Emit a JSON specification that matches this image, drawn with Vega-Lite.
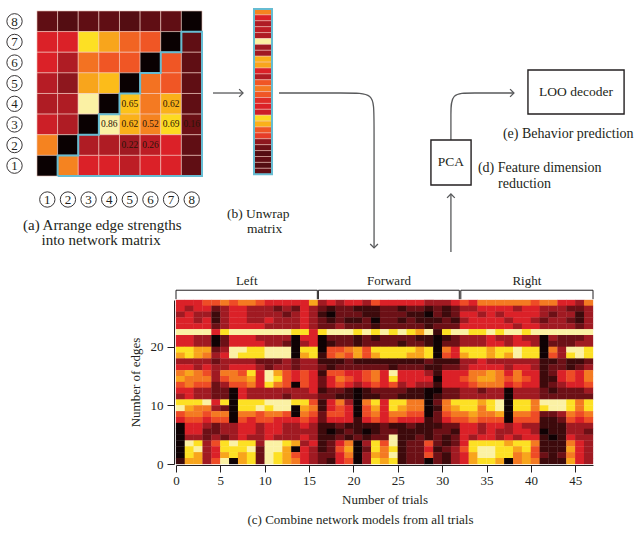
{
"padding": {"left": 5, "top": 7, "right": 0, "bottom": 0},
"background": "white",
"config": {
  "view": {"stroke": null},
  "font": "Liberation Serif",
  "axis": {"labelFont": "Liberation Serif", "titleFont": "Liberation Serif", "titleFontWeight": "normal", "labelColor": "#231f20", "titleColor": "#231f20", "grid": false, "labelOverlap": false},
  "title": {"font": "Liberation Serif", "fontWeight": "normal", "fontSize": 13, "color": "#231f20"}
},
"spacing": 19,
"resolve": {"scale": {"color": "independent"}},
"vconcat": [
{
  "spacing": 4,
  "resolve": {"scale": {"color": "independent"}},
  "hconcat": [
  {
    "width": 165, "height": 165,
    "data": {"values": [
      {"r":8,"c":1,"s":0.14},{"r":8,"c":2,"s":0.12},{"r":8,"c":3,"s":0.14},{"r":8,"c":4,"s":0.14},{"r":8,"c":5,"s":0.12},{"r":8,"c":6,"s":0.14},{"r":8,"c":7,"s":0.14},{"r":8,"c":8,"s":0},
      {"r":7,"c":1,"s":0.3},{"r":7,"c":2,"s":0.3},{"r":7,"c":3,"s":0.7},{"r":7,"c":4,"s":0.6},{"r":7,"c":5,"s":0.45},{"r":7,"c":6,"s":0.42},{"r":7,"c":7,"s":0},{"r":7,"c":8,"s":0.14},
      {"r":6,"c":1,"s":0.3},{"r":6,"c":2,"s":0.24},{"r":6,"c":3,"s":0.48},{"r":6,"c":4,"s":0.42},{"r":6,"c":5,"s":0.42},{"r":6,"c":6,"s":0},{"r":6,"c":7,"s":0.42},{"r":6,"c":8,"s":0.14},
      {"r":5,"c":1,"s":0.25},{"r":5,"c":2,"s":0.2},{"r":5,"c":3,"s":0.6},{"r":5,"c":4,"s":0.64},{"r":5,"c":5,"s":0},{"r":5,"c":6,"s":0.48},{"r":5,"c":7,"s":0.42},{"r":5,"c":8,"s":0.14},
      {"r":4,"c":1,"s":0.24},{"r":4,"c":2,"s":0.24},{"r":4,"c":3,"s":0.86},{"r":4,"c":4,"s":0},{"r":4,"c":5,"s":0.65,"note":true},{"r":4,"c":6,"s":0.5},{"r":4,"c":7,"s":0.62,"note":true},{"r":4,"c":8,"s":0.14},
      {"r":3,"c":1,"s":0.28},{"r":3,"c":2,"s":0.24},{"r":3,"c":3,"s":0},{"r":3,"c":4,"s":0.86,"note":true},{"r":3,"c":5,"s":0.62,"note":true},{"r":3,"c":6,"s":0.52,"note":true},{"r":3,"c":7,"s":0.69,"note":true},{"r":3,"c":8,"s":0.16,"note":true},
      {"r":2,"c":1,"s":0.52},{"r":2,"c":2,"s":0},{"r":2,"c":3,"s":0.24},{"r":2,"c":4,"s":0.24},{"r":2,"c":5,"s":0.22,"note":true},{"r":2,"c":6,"s":0.26,"note":true},{"r":2,"c":7,"s":0.3},{"r":2,"c":8,"s":0.14},
      {"r":1,"c":1,"s":0},{"r":1,"c":2,"s":0.52},{"r":1,"c":3,"s":0.3},{"r":1,"c":4,"s":0.3},{"r":1,"c":5,"s":0.26},{"r":1,"c":6,"s":0.3},{"r":1,"c":7,"s":0.3},{"r":1,"c":8,"s":0.14}
    ]},
    "layer": [
      {
        "mark": {"type": "rect", "width": 20.7, "height": 20.7, "stroke": "#f5cfc4", "strokeWidth": 0.6},
        "encoding": {
          "x": {"field": "c", "type": "quantitative", "scale": {"domain": [0.5, 8.5], "nice": false, "zero": false}, "axis": null},
          "y": {"field": "r", "type": "quantitative", "scale": {"domain": [0.5, 8.5], "nice": false, "zero": false}, "axis": null},
          "color": {"field": "s", "type": "quantitative", "legend": null,
                    "scale": {"domain": [0, 0.08, 0.16, 0.22, 0.3, 0.4, 0.5, 0.6, 0.7, 0.86], "range": ["#0a0102", "#3d0a0c", "#6c1016", "#a01a22", "#db2128", "#ee4c26", "#f47a22", "#f8a51c", "#fde024", "#fbf1a4"]}}
        }
      },
      {
        "transform": [{"filter": "datum.note === true"}],
        "mark": {"type": "text", "fontSize": 9.5, "font": "Liberation Serif", "color": "#2b1408"},
        "encoding": {
          "x": {"field": "c", "type": "quantitative", "axis": null},
          "y": {"field": "r", "type": "quantitative", "axis": null},
          "text": {"field": "s", "type": "quantitative", "format": ".2f"}
        }
      },
      {
        "data": {"values": [
          {"i":0,"c":1.5,"r":0.5},{"i":1,"c":8.5,"r":0.5},{"i":2,"c":8.5,"r":7.5},{"i":3,"c":7.5,"r":7.5},{"i":4,"c":7.5,"r":6.5},{"i":5,"c":6.5,"r":6.5},{"i":6,"c":6.5,"r":5.5},{"i":7,"c":5.5,"r":5.5},{"i":8,"c":5.5,"r":4.5},{"i":9,"c":4.5,"r":4.5},{"i":10,"c":4.5,"r":3.5},{"i":11,"c":3.5,"r":3.5},{"i":12,"c":3.5,"r":2.5},{"i":13,"c":2.5,"r":2.5},{"i":14,"c":2.5,"r":1.5},{"i":15,"c":1.5,"r":1.5},{"i":16,"c":1.5,"r":0.5}
        ]},
        "mark": {"type": "line", "stroke": "#66bcd2", "strokeWidth": 2},
        "encoding": {
          "x": {"field": "c", "type": "quantitative", "axis": null},
          "y": {"field": "r", "type": "quantitative", "axis": null},
          "order": {"field": "i"}
        }
      },
      {
        "data": {"values": [
          {"node":"1","c":1,"r":-0.64},{"node":"2","c":2,"r":-0.64},{"node":"3","c":3,"r":-0.64},{"node":"4","c":4,"r":-0.64},{"node":"5","c":5,"r":-0.64},{"node":"6","c":6,"r":-0.64},{"node":"7","c":7,"r":-0.64},{"node":"8","c":8,"r":-0.64},
          {"node":"1","c":-0.59,"r":1},{"node":"2","c":-0.59,"r":2},{"node":"3","c":-0.59,"r":3},{"node":"4","c":-0.59,"r":4},{"node":"5","c":-0.59,"r":5},{"node":"6","c":-0.59,"r":6},{"node":"7","c":-0.59,"r":7},{"node":"8","c":-0.59,"r":8}
        ]},
        "layer": [
          {
            "mark": {"type": "point", "shape": "circle", "filled": false, "size": 235, "stroke": "#231f20", "strokeWidth": 0.9, "opacity": 1},
            "encoding": {
              "x": {"field": "c", "type": "quantitative", "axis": null},
              "y": {"field": "r", "type": "quantitative", "axis": null}
            }
          },
          {
            "mark": {"type": "text", "fontSize": 13, "font": "Liberation Serif", "color": "#231f20", "baseline": "middle", "dy": 0.5},
            "encoding": {
              "x": {"field": "c", "type": "quantitative", "axis": null},
              "y": {"field": "r", "type": "quantitative", "axis": null},
              "text": {"field": "node"}
            }
          }
        ]
      },
      {
        "data": {"values": [
          {"label": "(a) Arrange edge strengths", "c": -0.18, "r": -1.88},
          {"label": "into network matrix", "c": 0.72, "r": -2.6}
        ]},
        "mark": {"type": "text", "align": "left", "baseline": "middle", "fontSize": 15, "font": "Liberation Serif", "color": "#231f20"},
        "encoding": {
          "x": {"field": "c", "type": "quantitative", "axis": null},
          "y": {"field": "r", "type": "quantitative", "axis": null},
          "text": {"field": "label"}
        }
      }
    ]
  },
  {
    "width": 387, "height": 236,
    "layer": [
      {
        "data": {"values": [
          {"slot":0,"s":0.52},{"slot":1,"s":0.3},{"slot":2,"s":0.24},{"slot":3,"s":0.26},{"slot":4,"s":0.24},{"slot":5,"s":0.86},{"slot":6,"s":0.22},{"slot":7,"s":0.22},{"slot":8,"s":0.62},{"slot":9,"s":0.6},{"slot":10,"s":0.3},{"slot":11,"s":0.24},{"slot":12,"s":0.42},{"slot":13,"s":0.5},{"slot":14,"s":0.42},{"slot":15,"s":0.32},{"slot":16,"s":0.3},{"slot":17,"s":0.28},{"slot":18,"s":0.69},{"slot":19,"s":0.62},{"slot":20,"s":0.42},{"slot":21,"s":0.36},{"slot":22,"s":0.2},{"slot":23,"s":0.16},{"slot":24,"s":0.12},{"slot":25,"s":0.14},{"slot":26,"s":0.12},{"slot":27,"s":0.14}
        ]},
        "mark": {"type": "rect", "height": 5.9, "yOffset": 2.95, "stroke": "#f3c4b8", "strokeWidth": 0.5},
        "encoding": {
          "x": {"datum": 0, "type": "quantitative", "scale": {"domain": [0, 21.5], "nice": false, "zero": false}, "axis": null},
          "x2": {"datum": 1},
          "y": {"field": "slot", "type": "quantitative", "scale": {"domain": [0.34, 40.34], "reverse": true, "nice": false, "zero": false}, "axis": null},
          "color": {"field": "s", "type": "quantitative", "legend": null,
                    "scale": {"domain": [0, 0.08, 0.16, 0.22, 0.3, 0.4, 0.5, 0.6, 0.7, 0.86], "range": ["#0a0102", "#3d0a0c", "#6c1016", "#a01a22", "#db2128", "#ee4c26", "#f47a22", "#f8a51c", "#fde024", "#fbf1a4"]}}
        }
      },
      {
        "data": {"values": [{"part": "unwrapped vector"}]},
        "mark": {"type": "rect", "fill": "white", "fillOpacity": 0, "stroke": "#66bcd2", "strokeWidth": 2},
        "encoding": {
          "x": {"datum": 0, "type": "quantitative", "axis": null},
          "x2": {"datum": 1},
          "y": {"datum": 0, "type": "quantitative", "axis": null},
          "y2": {"datum": 28}
        }
      },
      {
        "data": {"values": [
          {"path":"ab","i":0,"x":-2.28,"y":14.24},{"path":"ab","i":1,"x":-0.61,"y":14.24},
          {"path":"bc","i":0,"x":1.39,"y":14.24},{"path":"bc","i":1,"x":5.2,"y":14.24},{"path":"bc","i":2,"x":6.67,"y":14.24},{"path":"bc","i":3,"x":6.67,"y":17.9},{"path":"bc","i":4,"x":6.67,"y":40.5},
          {"path":"cd","i":0,"x":10.94,"y":41.2},{"path":"cd","i":1,"x":10.94,"y":31.36},
          {"path":"de","i":0,"x":10.94,"y":22.2},{"path":"de","i":1,"x":10.94,"y":17.7},{"path":"de","i":2,"x":10.94,"y":14.24},{"path":"de","i":3,"x":12.06,"y":14.24},{"path":"de","i":4,"x":14.44,"y":14.24}
        ]},
        "mark": {"type": "line", "interpolate": "basis", "stroke": "#58595b", "strokeWidth": 1.3},
        "encoding": {
          "x": {"field": "x", "type": "quantitative", "axis": null},
          "y": {"field": "y", "type": "quantitative", "axis": null},
          "detail": {"field": "path"},
          "order": {"field": "i"}
        }
      },
      {
        "data": {"values": [
          {"dir":"right","x":-0.61,"y":14.24},{"dir":"down","x":6.67,"y":40.5},{"dir":"up","x":10.94,"y":31.36},{"dir":"right","x":14.44,"y":14.24}
        ]},
        "mark": {"type": "point", "filled": false, "stroke": "#58595b", "strokeWidth": 1.3, "size": 60, "opacity": 1},
        "encoding": {
          "x": {"field": "x", "type": "quantitative", "axis": null},
          "y": {"field": "y", "type": "quantitative", "axis": null},
          "shape": {"field": "dir", "type": "nominal", "legend": null,
                    "scale": {"domain": ["right", "down", "up"], "range": ["M-1,-1L0,0L-1,1", "M-1,-1L0,0L1,-1", "M-1,1L0,0L1,1"]}}
        }
      },
      {
        "data": {"values": [
          {"box":"PCA","x":9.83,"x2":12.06,"y":22.2,"y2":29.83},
          {"box":"LOO decoder","x":15.22,"x2":20.56,"y":10.34,"y2":17.8}
        ]},
        "mark": {"type": "rect", "fill": "white", "fillOpacity": 0, "stroke": "#231f20", "strokeWidth": 1.4},
        "encoding": {
          "x": {"field": "x", "type": "quantitative", "axis": null},
          "x2": {"field": "x2"},
          "y": {"field": "y", "type": "quantitative", "axis": null},
          "y2": {"field": "y2"}
        }
      },
      {
        "data": {"values": [
          {"label":"PCA","x":10.94,"y":26.0},
          {"label":"LOO decoder","x":17.89,"y":14.0}
        ]},
        "mark": {"type": "text", "fontSize": 13.5, "font": "Liberation Serif", "color": "#231f20"},
        "encoding": {
          "x": {"field": "x", "type": "quantitative", "axis": null},
          "y": {"field": "y", "type": "quantitative", "axis": null},
          "text": {"field": "label"}
        }
      },
      {
        "data": {"values": [
          {"label":"(e) Behavior prediction","x":13.83,"y":21.19},
          {"label":"(d) Feature dimension","x":12.44,"y":26.95},
          {"label":"reduction","x":13.56,"y":29.66}
        ]},
        "mark": {"type": "text", "align": "left", "baseline": "middle", "fontSize": 14, "font": "Liberation Serif", "color": "#231f20"},
        "encoding": {
          "x": {"field": "x", "type": "quantitative", "axis": null},
          "y": {"field": "y", "type": "quantitative", "axis": null},
          "text": {"field": "label"}
        }
      },
      {
        "data": {"values": [
          {"label":"(b) Unwrap","x":-1.5,"y":34.75},
          {"label":"matrix","x":-0.39,"y":37.29}
        ]},
        "mark": {"type": "text", "align": "left", "baseline": "middle", "fontSize": 13.5, "font": "Liberation Serif", "color": "#231f20"},
        "encoding": {
          "x": {"field": "x", "type": "quantitative", "axis": null},
          "y": {"field": "y", "type": "quantitative", "axis": null},
          "text": {"field": "label"}
        }
      }
    ]
  }
  ]
},
{
  "spacing": 0,
  "resolve": {"scale": {"color": "independent"}},
  "hconcat": [
  {
    "width": 92, "height": 10,
    "data": {"values": [{}]},
    "mark": {"type": "point", "opacity": 0},
    "encoding": {}
  },
  {
    "width": 417, "height": 164,
    "title": {"text": "(c) Combine network models from all trials", "orient": "bottom", "anchor": "middle", "dx": -24, "offset": 8, "fontSize": 13, "font": "Liberation Serif", "fontWeight": "normal", "color": "#231f20"},
    "layer": [
      {
        "data": {"values": [
{"t":0,"e":27,"v":0.4},{"t":1,"e":27,"v":0.4},{"t":2,"e":27,"v":0.4},{"t":3,"e":27,"v":0.5},{"t":4,"e":27,"v":0.5},{"t":5,"e":27,"v":0.6},{"t":6,"e":27,"v":0.5},{"t":7,"e":27,"v":0.6},{"t":8,"e":27,"v":0.6},{"t":9,"e":27,"v":0.5},{"t":10,"e":27,"v":0.4},{"t":11,"e":27,"v":0.4},{"t":12,"e":27,"v":0.4},{"t":13,"e":27,"v":0.4},{"t":14,"e":27,"v":0.4},{"t":15,"e":27,"v":0.7},{"t":16,"e":27,"v":0.3},{"t":17,"e":27,"v":0.4},{"t":18,"e":27,"v":0.3},{"t":19,"e":27,"v":0.4},{"t":20,"e":27,"v":0.4},{"t":21,"e":27,"v":0.3},{"t":22,"e":27,"v":0.5},{"t":23,"e":27,"v":0.4},{"t":24,"e":27,"v":0.4},{"t":25,"e":27,"v":0.4},{"t":26,"e":27,"v":0.4},{"t":27,"e":27,"v":0.4},{"t":28,"e":27,"v":0.3},{"t":29,"e":27,"v":0.3},{"t":30,"e":27,"v":0.3},{"t":31,"e":27,"v":0.4},{"t":32,"e":27,"v":0.5},{"t":33,"e":27,"v":0.4},{"t":34,"e":27,"v":0.6},{"t":35,"e":27,"v":0.6},{"t":36,"e":27,"v":0.6},{"t":37,"e":27,"v":0.6},{"t":38,"e":27,"v":0.6},{"t":39,"e":27,"v":0.6},{"t":40,"e":27,"v":0.5},{"t":41,"e":27,"v":0.6},{"t":42,"e":27,"v":0.6},{"t":43,"e":27,"v":0.4},{"t":44,"e":27,"v":0.4},{"t":45,"e":27,"v":0.3},{"t":46,"e":27,"v":0.6},
{"t":0,"e":26,"v":0.4},{"t":1,"e":26,"v":0.3},{"t":2,"e":26,"v":0.4},{"t":3,"e":26,"v":0.4},{"t":4,"e":26,"v":0.2},{"t":5,"e":26,"v":0.3},{"t":6,"e":26,"v":0.4},{"t":7,"e":26,"v":0.4},{"t":8,"e":26,"v":0.3},{"t":9,"e":26,"v":0.3},{"t":10,"e":26,"v":0.3},{"t":11,"e":26,"v":0.2},{"t":12,"e":26,"v":0.3},{"t":13,"e":26,"v":0.2},{"t":14,"e":26,"v":0.4},{"t":15,"e":26,"v":0.3},{"t":16,"e":26,"v":0.2},{"t":17,"e":26,"v":0.1},{"t":18,"e":26,"v":0.2},{"t":19,"e":26,"v":0.2},{"t":20,"e":26,"v":0.1},{"t":21,"e":26,"v":0.1},{"t":22,"e":26,"v":0.1},{"t":23,"e":26,"v":0.2},{"t":24,"e":26,"v":0.2},{"t":25,"e":26,"v":0.1},{"t":26,"e":26,"v":0.2},{"t":27,"e":26,"v":0.2},{"t":28,"e":26,"v":0.1},{"t":29,"e":26,"v":0.2},{"t":30,"e":26,"v":0.1},{"t":31,"e":26,"v":0.2},{"t":32,"e":26,"v":0.3},{"t":33,"e":26,"v":0.3},{"t":34,"e":26,"v":0.4},{"t":35,"e":26,"v":0.4},{"t":36,"e":26,"v":0.4},{"t":37,"e":26,"v":0.4},{"t":38,"e":26,"v":0.3},{"t":39,"e":26,"v":0.4},{"t":40,"e":26,"v":0.4},{"t":41,"e":26,"v":0.3},{"t":42,"e":26,"v":0.3},{"t":43,"e":26,"v":0.3},{"t":44,"e":26,"v":0.2},{"t":45,"e":26,"v":0.2},{"t":46,"e":26,"v":0.3},
{"t":0,"e":25,"v":0.3},{"t":1,"e":25,"v":0.4},{"t":2,"e":25,"v":0.3},{"t":3,"e":25,"v":0.3},{"t":4,"e":25,"v":0.1},{"t":5,"e":25,"v":0.3},{"t":6,"e":25,"v":0.4},{"t":7,"e":25,"v":0.4},{"t":8,"e":25,"v":0.3},{"t":9,"e":25,"v":0.3},{"t":10,"e":25,"v":0.3},{"t":11,"e":25,"v":0.3},{"t":12,"e":25,"v":0.2},{"t":13,"e":25,"v":0.3},{"t":14,"e":25,"v":0.4},{"t":15,"e":25,"v":0.3},{"t":16,"e":25,"v":0.1},{"t":17,"e":25,"v":0},{"t":18,"e":25,"v":0.2},{"t":19,"e":25,"v":0.2},{"t":20,"e":25,"v":0.2},{"t":21,"e":25,"v":0.1},{"t":22,"e":25,"v":0.1},{"t":23,"e":25,"v":0.2},{"t":24,"e":25,"v":0.2},{"t":25,"e":25,"v":0.2},{"t":26,"e":25,"v":0.1},{"t":27,"e":25,"v":0.1},{"t":28,"e":25,"v":0},{"t":29,"e":25,"v":0.2},{"t":30,"e":25,"v":0.1},{"t":31,"e":25,"v":0.2},{"t":32,"e":25,"v":0.4},{"t":33,"e":25,"v":0.4},{"t":34,"e":25,"v":0.3},{"t":35,"e":25,"v":0.4},{"t":36,"e":25,"v":0.3},{"t":37,"e":25,"v":0.4},{"t":38,"e":25,"v":0.4},{"t":39,"e":25,"v":0.4},{"t":40,"e":25,"v":0.4},{"t":41,"e":25,"v":0.3},{"t":42,"e":25,"v":0.2},{"t":43,"e":25,"v":0.3},{"t":44,"e":25,"v":0.3},{"t":45,"e":25,"v":0.1},{"t":46,"e":25,"v":0.3},
{"t":0,"e":24,"v":0.4},{"t":1,"e":24,"v":0.4},{"t":2,"e":24,"v":0.3},{"t":3,"e":24,"v":0.4},{"t":4,"e":24,"v":0.1},{"t":5,"e":24,"v":0.3},{"t":6,"e":24,"v":0.4},{"t":7,"e":24,"v":0.4},{"t":8,"e":24,"v":0.3},{"t":9,"e":24,"v":0.3},{"t":10,"e":24,"v":0.4},{"t":11,"e":24,"v":0.3},{"t":12,"e":24,"v":0.3},{"t":13,"e":24,"v":0.3},{"t":14,"e":24,"v":0.4},{"t":15,"e":24,"v":0.3},{"t":16,"e":24,"v":0.2},{"t":17,"e":24,"v":0.1},{"t":18,"e":24,"v":0.2},{"t":19,"e":24,"v":0.1},{"t":20,"e":24,"v":0.1},{"t":21,"e":24,"v":0.2},{"t":22,"e":24,"v":0},{"t":23,"e":24,"v":0.2},{"t":24,"e":24,"v":0.2},{"t":25,"e":24,"v":0.1},{"t":26,"e":24,"v":0.2},{"t":27,"e":24,"v":0.1},{"t":28,"e":24,"v":0.1},{"t":29,"e":24,"v":0.1},{"t":30,"e":24,"v":0.2},{"t":31,"e":24,"v":0.1},{"t":32,"e":24,"v":0.3},{"t":33,"e":24,"v":0.4},{"t":34,"e":24,"v":0.4},{"t":35,"e":24,"v":0.4},{"t":36,"e":24,"v":0.4},{"t":37,"e":24,"v":0.3},{"t":38,"e":24,"v":0.4},{"t":39,"e":24,"v":0.4},{"t":40,"e":24,"v":0.3},{"t":41,"e":24,"v":0.2},{"t":42,"e":24,"v":0.3},{"t":43,"e":24,"v":0.3},{"t":44,"e":24,"v":0.2},{"t":45,"e":24,"v":0.1},{"t":46,"e":24,"v":0.3},
{"t":0,"e":23,"v":0.4},{"t":1,"e":23,"v":0.4},{"t":2,"e":23,"v":0.4},{"t":3,"e":23,"v":0.4},{"t":4,"e":23,"v":0.2},{"t":5,"e":23,"v":0.3},{"t":6,"e":23,"v":0.4},{"t":7,"e":23,"v":0.4},{"t":8,"e":23,"v":0.4},{"t":9,"e":23,"v":0.4},{"t":10,"e":23,"v":0.3},{"t":11,"e":23,"v":0.3},{"t":12,"e":23,"v":0.3},{"t":13,"e":23,"v":0.3},{"t":14,"e":23,"v":0.4},{"t":15,"e":23,"v":0.3},{"t":16,"e":23,"v":0.2},{"t":17,"e":23,"v":0.2},{"t":18,"e":23,"v":0.3},{"t":19,"e":23,"v":0.2},{"t":20,"e":23,"v":0.2},{"t":21,"e":23,"v":0.2},{"t":22,"e":23,"v":0.1},{"t":23,"e":23,"v":0.2},{"t":24,"e":23,"v":0.2},{"t":25,"e":23,"v":0.2},{"t":26,"e":23,"v":0.2},{"t":27,"e":23,"v":0.2},{"t":28,"e":23,"v":0.1},{"t":29,"e":23,"v":0.2},{"t":30,"e":23,"v":0.2},{"t":31,"e":23,"v":0.2},{"t":32,"e":23,"v":0.4},{"t":33,"e":23,"v":0.4},{"t":34,"e":23,"v":0.4},{"t":35,"e":23,"v":0.4},{"t":36,"e":23,"v":0.4},{"t":37,"e":23,"v":0.4},{"t":38,"e":23,"v":0.3},{"t":39,"e":23,"v":0.4},{"t":40,"e":23,"v":0.4},{"t":41,"e":23,"v":0.3},{"t":42,"e":23,"v":0.3},{"t":43,"e":23,"v":0.3},{"t":44,"e":23,"v":0.3},{"t":45,"e":23,"v":0.2},{"t":46,"e":23,"v":0.3},
{"t":0,"e":22,"v":0.9},{"t":1,"e":22,"v":0.9},{"t":2,"e":22,"v":0.9},{"t":3,"e":22,"v":0.9},{"t":4,"e":22,"v":0.4},{"t":5,"e":22,"v":0.8},{"t":6,"e":22,"v":0.9},{"t":7,"e":22,"v":0.9},{"t":8,"e":22,"v":0.9},{"t":9,"e":22,"v":0.9},{"t":10,"e":22,"v":0.9},{"t":11,"e":22,"v":0.9},{"t":12,"e":22,"v":0.9},{"t":13,"e":22,"v":0.8},{"t":14,"e":22,"v":0.8},{"t":15,"e":22,"v":0.4},{"t":16,"e":22,"v":0.8},{"t":17,"e":22,"v":0.9},{"t":18,"e":22,"v":0.9},{"t":19,"e":22,"v":0.9},{"t":20,"e":22,"v":0.8},{"t":21,"e":22,"v":0.9},{"t":22,"e":22,"v":0.8},{"t":23,"e":22,"v":0.9},{"t":24,"e":22,"v":0.8},{"t":25,"e":22,"v":0.9},{"t":26,"e":22,"v":0.8},{"t":27,"e":22,"v":0.7},{"t":28,"e":22,"v":0.9},{"t":29,"e":22,"v":0.1},{"t":30,"e":22,"v":0.8},{"t":31,"e":22,"v":0.9},{"t":32,"e":22,"v":0.9},{"t":33,"e":22,"v":0.8},{"t":34,"e":22,"v":0.8},{"t":35,"e":22,"v":0.9},{"t":36,"e":22,"v":0.8},{"t":37,"e":22,"v":0.9},{"t":38,"e":22,"v":0.9},{"t":39,"e":22,"v":0.8},{"t":40,"e":22,"v":0.9},{"t":41,"e":22,"v":0.9},{"t":42,"e":22,"v":0.9},{"t":43,"e":22,"v":0.9},{"t":44,"e":22,"v":0.9},{"t":45,"e":22,"v":0.9},{"t":46,"e":22,"v":0.9},
{"t":0,"e":21,"v":0.4},{"t":1,"e":21,"v":0.4},{"t":2,"e":21,"v":0.3},{"t":3,"e":21,"v":0.3},{"t":4,"e":21,"v":0},{"t":5,"e":21,"v":0.2},{"t":6,"e":21,"v":0.4},{"t":7,"e":21,"v":0.4},{"t":8,"e":21,"v":0.4},{"t":9,"e":21,"v":0.3},{"t":10,"e":21,"v":0.3},{"t":11,"e":21,"v":0.3},{"t":12,"e":21,"v":0.3},{"t":13,"e":21,"v":0},{"t":14,"e":21,"v":0.4},{"t":15,"e":21,"v":0.4},{"t":16,"e":21,"v":0},{"t":17,"e":21,"v":0.2},{"t":18,"e":21,"v":0.2},{"t":19,"e":21,"v":0.2},{"t":20,"e":21,"v":0.1},{"t":21,"e":21,"v":0.2},{"t":22,"e":21,"v":0.1},{"t":23,"e":21,"v":0.2},{"t":24,"e":21,"v":0.2},{"t":25,"e":21,"v":0.2},{"t":26,"e":21,"v":0.2},{"t":27,"e":21,"v":0.1},{"t":28,"e":21,"v":0.1},{"t":29,"e":21,"v":0},{"t":30,"e":21,"v":0.1},{"t":31,"e":21,"v":0.2},{"t":32,"e":21,"v":0.3},{"t":33,"e":21,"v":0.3},{"t":34,"e":21,"v":0.3},{"t":35,"e":21,"v":0.4},{"t":36,"e":21,"v":0.3},{"t":37,"e":21,"v":0.3},{"t":38,"e":21,"v":0.4},{"t":39,"e":21,"v":0.3},{"t":40,"e":21,"v":0.3},{"t":41,"e":21,"v":0},{"t":42,"e":21,"v":0.3},{"t":43,"e":21,"v":0.2},{"t":44,"e":21,"v":0.2},{"t":45,"e":21,"v":0.2},{"t":46,"e":21,"v":0.3},
{"t":0,"e":20,"v":0.4},{"t":1,"e":20,"v":0.4},{"t":2,"e":20,"v":0.3},{"t":3,"e":20,"v":0.3},{"t":4,"e":20,"v":0},{"t":5,"e":20,"v":0.2},{"t":6,"e":20,"v":0.4},{"t":7,"e":20,"v":0.4},{"t":8,"e":20,"v":0.4},{"t":9,"e":20,"v":0.4},{"t":10,"e":20,"v":0.3},{"t":11,"e":20,"v":0.3},{"t":12,"e":20,"v":0.2},{"t":13,"e":20,"v":0},{"t":14,"e":20,"v":0.3},{"t":15,"e":20,"v":0.4},{"t":16,"e":20,"v":0},{"t":17,"e":20,"v":0.1},{"t":18,"e":20,"v":0.2},{"t":19,"e":20,"v":0.2},{"t":20,"e":20,"v":0.1},{"t":21,"e":20,"v":0.2},{"t":22,"e":20,"v":0.2},{"t":23,"e":20,"v":0.2},{"t":24,"e":20,"v":0.2},{"t":25,"e":20,"v":0.1},{"t":26,"e":20,"v":0.2},{"t":27,"e":20,"v":0.2},{"t":28,"e":20,"v":0.1},{"t":29,"e":20,"v":0},{"t":30,"e":20,"v":0.2},{"t":31,"e":20,"v":0.2},{"t":32,"e":20,"v":0.3},{"t":33,"e":20,"v":0.3},{"t":34,"e":20,"v":0.3},{"t":35,"e":20,"v":0.4},{"t":36,"e":20,"v":0.4},{"t":37,"e":20,"v":0.3},{"t":38,"e":20,"v":0.4},{"t":39,"e":20,"v":0.4},{"t":40,"e":20,"v":0.3},{"t":41,"e":20,"v":0},{"t":42,"e":20,"v":0.2},{"t":43,"e":20,"v":0.2},{"t":44,"e":20,"v":0.2},{"t":45,"e":20,"v":0.3},{"t":46,"e":20,"v":0.3},
{"t":0,"e":19,"v":0.8},{"t":1,"e":19,"v":0.8},{"t":2,"e":19,"v":0.7},{"t":3,"e":19,"v":0.7},{"t":4,"e":19,"v":0.2},{"t":5,"e":19,"v":0.3},{"t":6,"e":19,"v":0.9},{"t":7,"e":19,"v":0.9},{"t":8,"e":19,"v":0.8},{"t":9,"e":19,"v":0.8},{"t":10,"e":19,"v":0.9},{"t":11,"e":19,"v":0.9},{"t":12,"e":19,"v":0.9},{"t":13,"e":19,"v":0},{"t":14,"e":19,"v":0.8},{"t":15,"e":19,"v":0.8},{"t":16,"e":19,"v":0},{"t":17,"e":19,"v":0.5},{"t":18,"e":19,"v":0.5},{"t":19,"e":19,"v":0.6},{"t":20,"e":19,"v":0.7},{"t":21,"e":19,"v":0.5},{"t":22,"e":19,"v":0.8},{"t":23,"e":19,"v":0.8},{"t":24,"e":19,"v":0.8},{"t":25,"e":19,"v":0.8},{"t":26,"e":19,"v":0.8},{"t":27,"e":19,"v":0.7},{"t":28,"e":19,"v":0.8},{"t":29,"e":19,"v":0},{"t":30,"e":19,"v":0.6},{"t":31,"e":19,"v":0.4},{"t":32,"e":19,"v":0.8},{"t":33,"e":19,"v":0.8},{"t":34,"e":19,"v":0.8},{"t":35,"e":19,"v":0.7},{"t":36,"e":19,"v":0.8},{"t":37,"e":19,"v":0.8},{"t":38,"e":19,"v":0.9},{"t":39,"e":19,"v":0.8},{"t":40,"e":19,"v":0.8},{"t":41,"e":19,"v":0},{"t":42,"e":19,"v":0.6},{"t":43,"e":19,"v":0.3},{"t":44,"e":19,"v":0.9},{"t":45,"e":19,"v":0.9},{"t":46,"e":19,"v":0.8},
{"t":0,"e":18,"v":0.7},{"t":1,"e":18,"v":0.8},{"t":2,"e":18,"v":0.7},{"t":3,"e":18,"v":0.6},{"t":4,"e":18,"v":0.3},{"t":5,"e":18,"v":0.4},{"t":6,"e":18,"v":0.9},{"t":7,"e":18,"v":0.8},{"t":8,"e":18,"v":0.8},{"t":9,"e":18,"v":0.8},{"t":10,"e":18,"v":0.9},{"t":11,"e":18,"v":0.9},{"t":12,"e":18,"v":0.9},{"t":13,"e":18,"v":0},{"t":14,"e":18,"v":0.7},{"t":15,"e":18,"v":0.8},{"t":16,"e":18,"v":0.1},{"t":17,"e":18,"v":0.5},{"t":18,"e":18,"v":0.6},{"t":19,"e":18,"v":0.5},{"t":20,"e":18,"v":0.7},{"t":21,"e":18,"v":0.5},{"t":22,"e":18,"v":0.7},{"t":23,"e":18,"v":0.8},{"t":24,"e":18,"v":0.8},{"t":25,"e":18,"v":0.8},{"t":26,"e":18,"v":0.7},{"t":27,"e":18,"v":0.7},{"t":28,"e":18,"v":0.8},{"t":29,"e":18,"v":0},{"t":30,"e":18,"v":0.5},{"t":31,"e":18,"v":0.4},{"t":32,"e":18,"v":0.7},{"t":33,"e":18,"v":0.8},{"t":34,"e":18,"v":0.8},{"t":35,"e":18,"v":0.7},{"t":36,"e":18,"v":0.8},{"t":37,"e":18,"v":0.7},{"t":38,"e":18,"v":0.9},{"t":39,"e":18,"v":0.8},{"t":40,"e":18,"v":0.8},{"t":41,"e":18,"v":0},{"t":42,"e":18,"v":0.5},{"t":43,"e":18,"v":0.3},{"t":44,"e":18,"v":0.8},{"t":45,"e":18,"v":0.9},{"t":46,"e":18,"v":0.8},
{"t":0,"e":17,"v":0.3},{"t":1,"e":17,"v":0.3},{"t":2,"e":17,"v":0.3},{"t":3,"e":17,"v":0.3},{"t":4,"e":17,"v":0.2},{"t":5,"e":17,"v":0.3},{"t":6,"e":17,"v":0.3},{"t":7,"e":17,"v":0.3},{"t":8,"e":17,"v":0.3},{"t":9,"e":17,"v":0.2},{"t":10,"e":17,"v":0.2},{"t":11,"e":17,"v":0.2},{"t":12,"e":17,"v":0.3},{"t":13,"e":17,"v":0.2},{"t":14,"e":17,"v":0.3},{"t":15,"e":17,"v":0.3},{"t":16,"e":17,"v":0.1},{"t":17,"e":17,"v":0.1},{"t":18,"e":17,"v":0.1},{"t":19,"e":17,"v":0.2},{"t":20,"e":17,"v":0.1},{"t":21,"e":17,"v":0.1},{"t":22,"e":17,"v":0.1},{"t":23,"e":17,"v":0.1},{"t":24,"e":17,"v":0.1},{"t":25,"e":17,"v":0.1},{"t":26,"e":17,"v":0.1},{"t":27,"e":17,"v":0.1},{"t":28,"e":17,"v":0.2},{"t":29,"e":17,"v":0.1},{"t":30,"e":17,"v":0.1},{"t":31,"e":17,"v":0.1},{"t":32,"e":17,"v":0.3},{"t":33,"e":17,"v":0.3},{"t":34,"e":17,"v":0.4},{"t":35,"e":17,"v":0.3},{"t":36,"e":17,"v":0.3},{"t":37,"e":17,"v":0.3},{"t":38,"e":17,"v":0.3},{"t":39,"e":17,"v":0.3},{"t":40,"e":17,"v":0.3},{"t":41,"e":17,"v":0.1},{"t":42,"e":17,"v":0.1},{"t":43,"e":17,"v":0.2},{"t":44,"e":17,"v":0.1},{"t":45,"e":17,"v":0.1},{"t":46,"e":17,"v":0.2},
{"t":0,"e":16,"v":0.4},{"t":1,"e":16,"v":0.4},{"t":2,"e":16,"v":0.3},{"t":3,"e":16,"v":0.4},{"t":4,"e":16,"v":0.3},{"t":5,"e":16,"v":0.3},{"t":6,"e":16,"v":0.4},{"t":7,"e":16,"v":0.4},{"t":8,"e":16,"v":0.4},{"t":9,"e":16,"v":0.3},{"t":10,"e":16,"v":0.2},{"t":11,"e":16,"v":0.3},{"t":12,"e":16,"v":0.3},{"t":13,"e":16,"v":0.2},{"t":14,"e":16,"v":0.3},{"t":15,"e":16,"v":0.3},{"t":16,"e":16,"v":0.2},{"t":17,"e":16,"v":0.1},{"t":18,"e":16,"v":0.2},{"t":19,"e":16,"v":0.2},{"t":20,"e":16,"v":0.2},{"t":21,"e":16,"v":0.2},{"t":22,"e":16,"v":0.2},{"t":23,"e":16,"v":0.2},{"t":24,"e":16,"v":0.1},{"t":25,"e":16,"v":0.2},{"t":26,"e":16,"v":0.2},{"t":27,"e":16,"v":0.2},{"t":28,"e":16,"v":0.1},{"t":29,"e":16,"v":0.1},{"t":30,"e":16,"v":0.2},{"t":31,"e":16,"v":0.2},{"t":32,"e":16,"v":0.3},{"t":33,"e":16,"v":0.4},{"t":34,"e":16,"v":0.4},{"t":35,"e":16,"v":0.4},{"t":36,"e":16,"v":0.4},{"t":37,"e":16,"v":0.3},{"t":38,"e":16,"v":0.4},{"t":39,"e":16,"v":0.4},{"t":40,"e":16,"v":0.3},{"t":41,"e":16,"v":0.1},{"t":42,"e":16,"v":0.2},{"t":43,"e":16,"v":0.2},{"t":44,"e":16,"v":0.1},{"t":45,"e":16,"v":0.2},{"t":46,"e":16,"v":0.3},
{"t":0,"e":15,"v":0.6},{"t":1,"e":15,"v":0.7},{"t":2,"e":15,"v":0.6},{"t":3,"e":15,"v":0.5},{"t":4,"e":15,"v":0.3},{"t":5,"e":15,"v":0.6},{"t":6,"e":15,"v":0.6},{"t":7,"e":15,"v":0.5},{"t":8,"e":15,"v":0.8},{"t":9,"e":15,"v":0.4},{"t":10,"e":15,"v":0.9},{"t":11,"e":15,"v":0.7},{"t":12,"e":15,"v":0.5},{"t":13,"e":15,"v":0.4},{"t":14,"e":15,"v":0.5},{"t":15,"e":15,"v":0.4},{"t":16,"e":15,"v":0.1},{"t":17,"e":15,"v":0.5},{"t":18,"e":15,"v":0.5},{"t":19,"e":15,"v":0.4},{"t":20,"e":15,"v":0.4},{"t":21,"e":15,"v":0.5},{"t":22,"e":15,"v":0.6},{"t":23,"e":15,"v":0.4},{"t":24,"e":15,"v":0.9},{"t":25,"e":15,"v":0.4},{"t":26,"e":15,"v":0.4},{"t":27,"e":15,"v":0.4},{"t":28,"e":15,"v":0.3},{"t":29,"e":15,"v":0.1},{"t":30,"e":15,"v":0.4},{"t":31,"e":15,"v":0.4},{"t":32,"e":15,"v":0.4},{"t":33,"e":15,"v":0.6},{"t":34,"e":15,"v":0.6},{"t":35,"e":15,"v":0.7},{"t":36,"e":15,"v":0.6},{"t":37,"e":15,"v":0.4},{"t":38,"e":15,"v":0.6},{"t":39,"e":15,"v":0.4},{"t":40,"e":15,"v":0.4},{"t":41,"e":15,"v":0.1},{"t":42,"e":15,"v":0.2},{"t":43,"e":15,"v":0.4},{"t":44,"e":15,"v":0.5},{"t":45,"e":15,"v":0.4},{"t":46,"e":15,"v":0.6},
{"t":0,"e":14,"v":0.7},{"t":1,"e":14,"v":0.6},{"t":2,"e":14,"v":0.6},{"t":3,"e":14,"v":0.6},{"t":4,"e":14,"v":0.3},{"t":5,"e":14,"v":0.5},{"t":6,"e":14,"v":0.6},{"t":7,"e":14,"v":0.6},{"t":8,"e":14,"v":0.7},{"t":9,"e":14,"v":0.4},{"t":10,"e":14,"v":0.9},{"t":11,"e":14,"v":0.8},{"t":12,"e":14,"v":0.5},{"t":13,"e":14,"v":0.4},{"t":14,"e":14,"v":0.5},{"t":15,"e":14,"v":0.4},{"t":16,"e":14,"v":0.2},{"t":17,"e":14,"v":0.4},{"t":18,"e":14,"v":0.6},{"t":19,"e":14,"v":0.5},{"t":20,"e":14,"v":0.4},{"t":21,"e":14,"v":0.5},{"t":22,"e":14,"v":0.6},{"t":23,"e":14,"v":0.4},{"t":24,"e":14,"v":0.8},{"t":25,"e":14,"v":0.4},{"t":26,"e":14,"v":0.4},{"t":27,"e":14,"v":0.4},{"t":28,"e":14,"v":0.4},{"t":29,"e":14,"v":0},{"t":30,"e":14,"v":0.4},{"t":31,"e":14,"v":0.4},{"t":32,"e":14,"v":0.5},{"t":33,"e":14,"v":0.6},{"t":34,"e":14,"v":0.7},{"t":35,"e":14,"v":0.7},{"t":36,"e":14,"v":0.6},{"t":37,"e":14,"v":0.5},{"t":38,"e":14,"v":0.6},{"t":39,"e":14,"v":0.5},{"t":40,"e":14,"v":0.4},{"t":41,"e":14,"v":0.1},{"t":42,"e":14,"v":0.1},{"t":43,"e":14,"v":0.4},{"t":44,"e":14,"v":0.5},{"t":45,"e":14,"v":0.4},{"t":46,"e":14,"v":0.6},
{"t":0,"e":13,"v":0.5},{"t":1,"e":13,"v":0.6},{"t":2,"e":13,"v":0.5},{"t":3,"e":13,"v":0.5},{"t":4,"e":13,"v":0.2},{"t":5,"e":13,"v":0.3},{"t":6,"e":13,"v":0.5},{"t":7,"e":13,"v":0.5},{"t":8,"e":13,"v":0.6},{"t":9,"e":13,"v":0.4},{"t":10,"e":13,"v":0.8},{"t":11,"e":13,"v":0.6},{"t":12,"e":13,"v":0.5},{"t":13,"e":13,"v":0},{"t":14,"e":13,"v":0.5},{"t":15,"e":13,"v":0.4},{"t":16,"e":13,"v":0.2},{"t":17,"e":13,"v":0.4},{"t":18,"e":13,"v":0.5},{"t":19,"e":13,"v":0.4},{"t":20,"e":13,"v":0.3},{"t":21,"e":13,"v":0.4},{"t":22,"e":13,"v":0.5},{"t":23,"e":13,"v":0.4},{"t":24,"e":13,"v":0.5},{"t":25,"e":13,"v":0.3},{"t":26,"e":13,"v":0.4},{"t":27,"e":13,"v":0.3},{"t":28,"e":13,"v":0.3},{"t":29,"e":13,"v":0.1},{"t":30,"e":13,"v":0.4},{"t":31,"e":13,"v":0.4},{"t":32,"e":13,"v":0.4},{"t":33,"e":13,"v":0.5},{"t":34,"e":13,"v":0.6},{"t":35,"e":13,"v":0.6},{"t":36,"e":13,"v":0.6},{"t":37,"e":13,"v":0.4},{"t":38,"e":13,"v":0.5},{"t":39,"e":13,"v":0.4},{"t":40,"e":13,"v":0.4},{"t":41,"e":13,"v":0.1},{"t":42,"e":13,"v":0.2},{"t":43,"e":13,"v":0.3},{"t":44,"e":13,"v":0.4},{"t":45,"e":13,"v":0.4},{"t":46,"e":13,"v":0.5},
{"t":0,"e":12,"v":0.4},{"t":1,"e":12,"v":0.4},{"t":2,"e":12,"v":0.3},{"t":3,"e":12,"v":0.3},{"t":4,"e":12,"v":0.2},{"t":5,"e":12,"v":0.2},{"t":6,"e":12,"v":0},{"t":7,"e":12,"v":0.4},{"t":8,"e":12,"v":0.3},{"t":9,"e":12,"v":0.3},{"t":10,"e":12,"v":0.3},{"t":11,"e":12,"v":0.3},{"t":12,"e":12,"v":0.3},{"t":13,"e":12,"v":0.3},{"t":14,"e":12,"v":0.3},{"t":15,"e":12,"v":0.4},{"t":16,"e":12,"v":0.1},{"t":17,"e":12,"v":0.2},{"t":18,"e":12,"v":0.2},{"t":19,"e":12,"v":0.1},{"t":20,"e":12,"v":0},{"t":21,"e":12,"v":0.1},{"t":22,"e":12,"v":0.2},{"t":23,"e":12,"v":0.2},{"t":24,"e":12,"v":0.2},{"t":25,"e":12,"v":0.2},{"t":26,"e":12,"v":0.1},{"t":27,"e":12,"v":0.1},{"t":28,"e":12,"v":0},{"t":29,"e":12,"v":0},{"t":30,"e":12,"v":0.2},{"t":31,"e":12,"v":0.2},{"t":32,"e":12,"v":0.3},{"t":33,"e":12,"v":0.3},{"t":34,"e":12,"v":0.2},{"t":35,"e":12,"v":0.3},{"t":36,"e":12,"v":0.3},{"t":37,"e":12,"v":0},{"t":38,"e":12,"v":0.3},{"t":39,"e":12,"v":0.3},{"t":40,"e":12,"v":0.3},{"t":41,"e":12,"v":0.2},{"t":42,"e":12,"v":0.1},{"t":43,"e":12,"v":0.2},{"t":44,"e":12,"v":0.2},{"t":45,"e":12,"v":0.2},{"t":46,"e":12,"v":0.3},
{"t":0,"e":11,"v":0.3},{"t":1,"e":11,"v":0.4},{"t":2,"e":11,"v":0.3},{"t":3,"e":11,"v":0.3},{"t":4,"e":11,"v":0.2},{"t":5,"e":11,"v":0.2},{"t":6,"e":11,"v":0},{"t":7,"e":11,"v":0.4},{"t":8,"e":11,"v":0.3},{"t":9,"e":11,"v":0.3},{"t":10,"e":11,"v":0.3},{"t":11,"e":11,"v":0.3},{"t":12,"e":11,"v":0.2},{"t":13,"e":11,"v":0.3},{"t":14,"e":11,"v":0.3},{"t":15,"e":11,"v":0.3},{"t":16,"e":11,"v":0.2},{"t":17,"e":11,"v":0.2},{"t":18,"e":11,"v":0.1},{"t":19,"e":11,"v":0.1},{"t":20,"e":11,"v":0},{"t":21,"e":11,"v":0.1},{"t":22,"e":11,"v":0.1},{"t":23,"e":11,"v":0.2},{"t":24,"e":11,"v":0.2},{"t":25,"e":11,"v":0.1},{"t":26,"e":11,"v":0.1},{"t":27,"e":11,"v":0.1},{"t":28,"e":11,"v":0},{"t":29,"e":11,"v":0.1},{"t":30,"e":11,"v":0.2},{"t":31,"e":11,"v":0.2},{"t":32,"e":11,"v":0.3},{"t":33,"e":11,"v":0.3},{"t":34,"e":11,"v":0.3},{"t":35,"e":11,"v":0.3},{"t":36,"e":11,"v":0.3},{"t":37,"e":11,"v":0},{"t":38,"e":11,"v":0.3},{"t":39,"e":11,"v":0.3},{"t":40,"e":11,"v":0.3},{"t":41,"e":11,"v":0.2},{"t":42,"e":11,"v":0.2},{"t":43,"e":11,"v":0.2},{"t":44,"e":11,"v":0.2},{"t":45,"e":11,"v":0.2},{"t":46,"e":11,"v":0.2},
{"t":0,"e":10,"v":0.8},{"t":1,"e":10,"v":0.8},{"t":2,"e":10,"v":0.8},{"t":3,"e":10,"v":0.9},{"t":4,"e":10,"v":0.4},{"t":5,"e":10,"v":0.8},{"t":6,"e":10,"v":0},{"t":7,"e":10,"v":0.8},{"t":8,"e":10,"v":0.8},{"t":9,"e":10,"v":0.8},{"t":10,"e":10,"v":0.9},{"t":11,"e":10,"v":0.9},{"t":12,"e":10,"v":0.9},{"t":13,"e":10,"v":0.8},{"t":14,"e":10,"v":0.8},{"t":15,"e":10,"v":0.5},{"t":16,"e":10,"v":0.1},{"t":17,"e":10,"v":0.4},{"t":18,"e":10,"v":0.6},{"t":19,"e":10,"v":0.3},{"t":20,"e":10,"v":0},{"t":21,"e":10,"v":0.6},{"t":22,"e":10,"v":0.8},{"t":23,"e":10,"v":0.4},{"t":24,"e":10,"v":0.8},{"t":25,"e":10,"v":0.8},{"t":26,"e":10,"v":0.6},{"t":27,"e":10,"v":0.6},{"t":28,"e":10,"v":0},{"t":29,"e":10,"v":0.2},{"t":30,"e":10,"v":0.6},{"t":31,"e":10,"v":0.8},{"t":32,"e":10,"v":0.8},{"t":33,"e":10,"v":0.8},{"t":34,"e":10,"v":0.7},{"t":35,"e":10,"v":0.8},{"t":36,"e":10,"v":0.9},{"t":37,"e":10,"v":0},{"t":38,"e":10,"v":0.8},{"t":39,"e":10,"v":0.8},{"t":40,"e":10,"v":0.6},{"t":41,"e":10,"v":0.9},{"t":42,"e":10,"v":0.9},{"t":43,"e":10,"v":0.9},{"t":44,"e":10,"v":0.8},{"t":45,"e":10,"v":0.6},{"t":46,"e":10,"v":0.8},
{"t":0,"e":9,"v":0.9},{"t":1,"e":9,"v":0.7},{"t":2,"e":9,"v":0.6},{"t":3,"e":9,"v":0.6},{"t":4,"e":9,"v":0.3},{"t":5,"e":9,"v":0.2},{"t":6,"e":9,"v":0},{"t":7,"e":9,"v":0.8},{"t":8,"e":9,"v":0.8},{"t":9,"e":9,"v":0.9},{"t":10,"e":9,"v":0.8},{"t":11,"e":9,"v":0.9},{"t":12,"e":9,"v":0.9},{"t":13,"e":9,"v":0},{"t":14,"e":9,"v":0.7},{"t":15,"e":9,"v":0.6},{"t":16,"e":9,"v":0.1},{"t":17,"e":9,"v":0.4},{"t":18,"e":9,"v":0.5},{"t":19,"e":9,"v":0.4},{"t":20,"e":9,"v":0},{"t":21,"e":9,"v":0.5},{"t":22,"e":9,"v":0.7},{"t":23,"e":9,"v":0.4},{"t":24,"e":9,"v":0.8},{"t":25,"e":9,"v":0.7},{"t":26,"e":9,"v":0.6},{"t":27,"e":9,"v":0.6},{"t":28,"e":9,"v":0},{"t":29,"e":9,"v":0.1},{"t":30,"e":9,"v":0.6},{"t":31,"e":9,"v":0.7},{"t":32,"e":9,"v":0.8},{"t":33,"e":9,"v":0.8},{"t":34,"e":9,"v":0.6},{"t":35,"e":9,"v":0.8},{"t":36,"e":9,"v":0.9},{"t":37,"e":9,"v":0},{"t":38,"e":9,"v":0.8},{"t":39,"e":9,"v":0.8},{"t":40,"e":9,"v":0.6},{"t":41,"e":9,"v":0.8},{"t":42,"e":9,"v":0.9},{"t":43,"e":9,"v":0.9},{"t":44,"e":9,"v":0.8},{"t":45,"e":9,"v":0.6},{"t":46,"e":9,"v":0.8},
{"t":0,"e":8,"v":0.5},{"t":1,"e":8,"v":0.6},{"t":2,"e":8,"v":0.6},{"t":3,"e":8,"v":0.5},{"t":4,"e":8,"v":0.6},{"t":5,"e":8,"v":0.6},{"t":6,"e":8,"v":0},{"t":7,"e":8,"v":0.6},{"t":8,"e":8,"v":0.6},{"t":9,"e":8,"v":0.5},{"t":10,"e":8,"v":0.6},{"t":11,"e":8,"v":0.6},{"t":12,"e":8,"v":0.5},{"t":13,"e":8,"v":0},{"t":14,"e":8,"v":0.6},{"t":15,"e":8,"v":0.5},{"t":16,"e":8,"v":0.2},{"t":17,"e":8,"v":0.5},{"t":18,"e":8,"v":0.5},{"t":19,"e":8,"v":0.4},{"t":20,"e":8,"v":0},{"t":21,"e":8,"v":0.5},{"t":22,"e":8,"v":0.6},{"t":23,"e":8,"v":0.4},{"t":24,"e":8,"v":0.6},{"t":25,"e":8,"v":0.6},{"t":26,"e":8,"v":0.5},{"t":27,"e":8,"v":0.5},{"t":28,"e":8,"v":0},{"t":29,"e":8,"v":0.2},{"t":30,"e":8,"v":0.5},{"t":31,"e":8,"v":0.6},{"t":32,"e":8,"v":0.6},{"t":33,"e":8,"v":0.7},{"t":34,"e":8,"v":0.6},{"t":35,"e":8,"v":0.6},{"t":36,"e":8,"v":0.7},{"t":37,"e":8,"v":0},{"t":38,"e":8,"v":0.6},{"t":39,"e":8,"v":0.6},{"t":40,"e":8,"v":0.5},{"t":41,"e":8,"v":0.2},{"t":42,"e":8,"v":0.2},{"t":43,"e":8,"v":0.3},{"t":44,"e":8,"v":0.6},{"t":45,"e":8,"v":0.5},{"t":46,"e":8,"v":0.6},
{"t":0,"e":7,"v":0.4},{"t":1,"e":7,"v":0.5},{"t":2,"e":7,"v":0.5},{"t":3,"e":7,"v":0.4},{"t":4,"e":7,"v":0.5},{"t":5,"e":7,"v":0.5},{"t":6,"e":7,"v":0},{"t":7,"e":7,"v":0.5},{"t":8,"e":7,"v":0.4},{"t":9,"e":7,"v":0.5},{"t":10,"e":7,"v":0.5},{"t":11,"e":7,"v":0.4},{"t":12,"e":7,"v":0.4},{"t":13,"e":7,"v":0.4},{"t":14,"e":7,"v":0.5},{"t":15,"e":7,"v":0.4},{"t":16,"e":7,"v":0.2},{"t":17,"e":7,"v":0.4},{"t":18,"e":7,"v":0.4},{"t":19,"e":7,"v":0.4},{"t":20,"e":7,"v":0.1},{"t":21,"e":7,"v":0.4},{"t":22,"e":7,"v":0.5},{"t":23,"e":7,"v":0.4},{"t":24,"e":7,"v":0.5},{"t":25,"e":7,"v":0.4},{"t":26,"e":7,"v":0.4},{"t":27,"e":7,"v":0.4},{"t":28,"e":7,"v":0.1},{"t":29,"e":7,"v":0.2},{"t":30,"e":7,"v":0.4},{"t":31,"e":7,"v":0.5},{"t":32,"e":7,"v":0.5},{"t":33,"e":7,"v":0.6},{"t":34,"e":7,"v":0.5},{"t":35,"e":7,"v":0.5},{"t":36,"e":7,"v":0.5},{"t":37,"e":7,"v":0},{"t":38,"e":7,"v":0.5},{"t":39,"e":7,"v":0.5},{"t":40,"e":7,"v":0.5},{"t":41,"e":7,"v":0.1},{"t":42,"e":7,"v":0.1},{"t":43,"e":7,"v":0.2},{"t":44,"e":7,"v":0.5},{"t":45,"e":7,"v":0.4},{"t":46,"e":7,"v":0.5},
{"t":0,"e":6,"v":0},{"t":1,"e":6,"v":0.4},{"t":2,"e":6,"v":0.4},{"t":3,"e":6,"v":0.3},{"t":4,"e":6,"v":0.2},{"t":5,"e":6,"v":0.3},{"t":6,"e":6,"v":0.3},{"t":7,"e":6,"v":0.4},{"t":8,"e":6,"v":0.4},{"t":9,"e":6,"v":0.3},{"t":10,"e":6,"v":0.4},{"t":11,"e":6,"v":0.4},{"t":12,"e":6,"v":0.3},{"t":13,"e":6,"v":0.3},{"t":14,"e":6,"v":0.4},{"t":15,"e":6,"v":0.3},{"t":16,"e":6,"v":0.1},{"t":17,"e":6,"v":0.1},{"t":18,"e":6,"v":0.2},{"t":19,"e":6,"v":0.1},{"t":20,"e":6,"v":0.1},{"t":21,"e":6,"v":0.1},{"t":22,"e":6,"v":0.1},{"t":23,"e":6,"v":0.2},{"t":24,"e":6,"v":0.1},{"t":25,"e":6,"v":0.1},{"t":26,"e":6,"v":0.2},{"t":27,"e":6,"v":0.1},{"t":28,"e":6,"v":0.1},{"t":29,"e":6,"v":0.1},{"t":30,"e":6,"v":0.2},{"t":31,"e":6,"v":0.2},{"t":32,"e":6,"v":0.4},{"t":33,"e":6,"v":0.4},{"t":34,"e":6,"v":0.3},{"t":35,"e":6,"v":0.4},{"t":36,"e":6,"v":0.4},{"t":37,"e":6,"v":0.3},{"t":38,"e":6,"v":0.4},{"t":39,"e":6,"v":0.3},{"t":40,"e":6,"v":0.3},{"t":41,"e":6,"v":0.1},{"t":42,"e":6,"v":0.1},{"t":43,"e":6,"v":0.1},{"t":44,"e":6,"v":0.3},{"t":45,"e":6,"v":0.3},{"t":46,"e":6,"v":0.3},
{"t":0,"e":5,"v":0},{"t":1,"e":5,"v":0.4},{"t":2,"e":5,"v":0.4},{"t":3,"e":5,"v":0.2},{"t":4,"e":5,"v":0.2},{"t":5,"e":5,"v":0.3},{"t":6,"e":5,"v":0.3},{"t":7,"e":5,"v":0.4},{"t":8,"e":5,"v":0.4},{"t":9,"e":5,"v":0.3},{"t":10,"e":5,"v":0.4},{"t":11,"e":5,"v":0.4},{"t":12,"e":5,"v":0.3},{"t":13,"e":5,"v":0.3},{"t":14,"e":5,"v":0.3},{"t":15,"e":5,"v":0.3},{"t":16,"e":5,"v":0.1},{"t":17,"e":5,"v":0},{"t":18,"e":5,"v":0.1},{"t":19,"e":5,"v":0.2},{"t":20,"e":5,"v":0.1},{"t":21,"e":5,"v":0},{"t":22,"e":5,"v":0.1},{"t":23,"e":5,"v":0.2},{"t":24,"e":5,"v":0.2},{"t":25,"e":5,"v":0.1},{"t":26,"e":5,"v":0.1},{"t":27,"e":5,"v":0.1},{"t":28,"e":5,"v":0.1},{"t":29,"e":5,"v":0.2},{"t":30,"e":5,"v":0.2},{"t":31,"e":5,"v":0.1},{"t":32,"e":5,"v":0.4},{"t":33,"e":5,"v":0.4},{"t":34,"e":5,"v":0.3},{"t":35,"e":5,"v":0.4},{"t":36,"e":5,"v":0.3},{"t":37,"e":5,"v":0.3},{"t":38,"e":5,"v":0.4},{"t":39,"e":5,"v":0.4},{"t":40,"e":5,"v":0.3},{"t":41,"e":5,"v":0},{"t":42,"e":5,"v":0.1},{"t":43,"e":5,"v":0.1},{"t":44,"e":5,"v":0.3},{"t":45,"e":5,"v":0.3},{"t":46,"e":5,"v":0.2},
{"t":0,"e":4,"v":0},{"t":1,"e":4,"v":0.3},{"t":2,"e":4,"v":0.3},{"t":3,"e":4,"v":0.2},{"t":4,"e":4,"v":0.3},{"t":5,"e":4,"v":0.2},{"t":6,"e":4,"v":0.3},{"t":7,"e":4,"v":0.4},{"t":8,"e":4,"v":0.3},{"t":9,"e":4,"v":0.3},{"t":10,"e":4,"v":0.4},{"t":11,"e":4,"v":0.3},{"t":12,"e":4,"v":0.3},{"t":13,"e":4,"v":0.3},{"t":14,"e":4,"v":0.4},{"t":15,"e":4,"v":0.3},{"t":16,"e":4,"v":0.1},{"t":17,"e":4,"v":0.1},{"t":18,"e":4,"v":0.2},{"t":19,"e":4,"v":0.1},{"t":20,"e":4,"v":0.2},{"t":21,"e":4,"v":0.1},{"t":22,"e":4,"v":0.2},{"t":23,"e":4,"v":0.2},{"t":24,"e":4,"v":0.9},{"t":25,"e":4,"v":0.1},{"t":26,"e":4,"v":0.1},{"t":27,"e":4,"v":0.2},{"t":28,"e":4,"v":0.1},{"t":29,"e":4,"v":0.2},{"t":30,"e":4,"v":0.1},{"t":31,"e":4,"v":0.2},{"t":32,"e":4,"v":0.4},{"t":33,"e":4,"v":0.3},{"t":34,"e":4,"v":0.4},{"t":35,"e":4,"v":0.4},{"t":36,"e":4,"v":0.3},{"t":37,"e":4,"v":0.4},{"t":38,"e":4,"v":0.3},{"t":39,"e":4,"v":0.4},{"t":40,"e":4,"v":0.4},{"t":41,"e":4,"v":0.1},{"t":42,"e":4,"v":0},{"t":43,"e":4,"v":0.1},{"t":44,"e":4,"v":0.4},{"t":45,"e":4,"v":0.3},{"t":46,"e":4,"v":0.3},
{"t":0,"e":3,"v":0},{"t":1,"e":3,"v":0.9},{"t":2,"e":3,"v":0.8},{"t":3,"e":3,"v":0.3},{"t":4,"e":3,"v":0.5},{"t":5,"e":3,"v":0.8},{"t":6,"e":3,"v":0.9},{"t":7,"e":3,"v":0.8},{"t":8,"e":3,"v":0.8},{"t":9,"e":3,"v":0.3},{"t":10,"e":3,"v":0.9},{"t":11,"e":3,"v":0.9},{"t":12,"e":3,"v":0.8},{"t":13,"e":3,"v":0.7},{"t":14,"e":3,"v":0.3},{"t":15,"e":3,"v":0.4},{"t":16,"e":3,"v":0.1},{"t":17,"e":3,"v":0.2},{"t":18,"e":3,"v":0.4},{"t":19,"e":3,"v":0.6},{"t":20,"e":3,"v":0},{"t":21,"e":3,"v":0.3},{"t":22,"e":3,"v":0.8},{"t":23,"e":3,"v":0.5},{"t":24,"e":3,"v":0.9},{"t":25,"e":3,"v":0.1},{"t":26,"e":3,"v":0.2},{"t":27,"e":3,"v":0.2},{"t":28,"e":3,"v":0.5},{"t":29,"e":3,"v":0.2},{"t":30,"e":3,"v":0.1},{"t":31,"e":3,"v":0.2},{"t":32,"e":3,"v":0.4},{"t":33,"e":3,"v":0.8},{"t":34,"e":3,"v":0.8},{"t":35,"e":3,"v":0.8},{"t":36,"e":3,"v":0.8},{"t":37,"e":3,"v":0.7},{"t":38,"e":3,"v":0.8},{"t":39,"e":3,"v":0.8},{"t":40,"e":3,"v":0.6},{"t":41,"e":3,"v":0.1},{"t":42,"e":3,"v":0.1},{"t":43,"e":3,"v":0.1},{"t":44,"e":3,"v":0.6},{"t":45,"e":3,"v":0.4},{"t":46,"e":3,"v":0.3},
{"t":0,"e":2,"v":0},{"t":1,"e":2,"v":0.8},{"t":2,"e":2,"v":0.9},{"t":3,"e":2,"v":0.3},{"t":4,"e":2,"v":0.4},{"t":5,"e":2,"v":0.8},{"t":6,"e":2,"v":0.8},{"t":7,"e":2,"v":0.8},{"t":8,"e":2,"v":0.9},{"t":9,"e":2,"v":0.2},{"t":10,"e":2,"v":0.9},{"t":11,"e":2,"v":0.9},{"t":12,"e":2,"v":0.7},{"t":13,"e":2,"v":0},{"t":14,"e":2,"v":0.4},{"t":15,"e":2,"v":0.3},{"t":16,"e":2,"v":0.1},{"t":17,"e":2,"v":0.2},{"t":18,"e":2,"v":0.5},{"t":19,"e":2,"v":0.7},{"t":20,"e":2,"v":0},{"t":21,"e":2,"v":0.2},{"t":22,"e":2,"v":0.8},{"t":23,"e":2,"v":0.6},{"t":24,"e":2,"v":0.8},{"t":25,"e":2,"v":0.1},{"t":26,"e":2,"v":0.2},{"t":27,"e":2,"v":0.2},{"t":28,"e":2,"v":0.4},{"t":29,"e":2,"v":0.1},{"t":30,"e":2,"v":0.2},{"t":31,"e":2,"v":0.3},{"t":32,"e":2,"v":0.5},{"t":33,"e":2,"v":0.8},{"t":34,"e":2,"v":0.9},{"t":35,"e":2,"v":0.9},{"t":36,"e":2,"v":0.8},{"t":37,"e":2,"v":0.8},{"t":38,"e":2,"v":0.7},{"t":39,"e":2,"v":0.8},{"t":40,"e":2,"v":0.5},{"t":41,"e":2,"v":0.1},{"t":42,"e":2,"v":0.1},{"t":43,"e":2,"v":0.1},{"t":44,"e":2,"v":0.7},{"t":45,"e":2,"v":0.4},{"t":46,"e":2,"v":0.3},
{"t":0,"e":1,"v":0},{"t":1,"e":1,"v":0.8},{"t":2,"e":1,"v":0.7},{"t":3,"e":1,"v":0.3},{"t":4,"e":1,"v":0.4},{"t":5,"e":1,"v":0.7},{"t":6,"e":1,"v":0.8},{"t":7,"e":1,"v":0.7},{"t":8,"e":1,"v":0.8},{"t":9,"e":1,"v":0.2},{"t":10,"e":1,"v":0.9},{"t":11,"e":1,"v":0.8},{"t":12,"e":1,"v":0.7},{"t":13,"e":1,"v":0.5},{"t":14,"e":1,"v":0.4},{"t":15,"e":1,"v":0.3},{"t":16,"e":1,"v":0.2},{"t":17,"e":1,"v":0.2},{"t":18,"e":1,"v":0.4},{"t":19,"e":1,"v":0.6},{"t":20,"e":1,"v":0},{"t":21,"e":1,"v":0.3},{"t":22,"e":1,"v":0.7},{"t":23,"e":1,"v":0.6},{"t":24,"e":1,"v":0.9},{"t":25,"e":1,"v":0.1},{"t":26,"e":1,"v":0.2},{"t":27,"e":1,"v":0.2},{"t":28,"e":1,"v":0.5},{"t":29,"e":1,"v":0.2},{"t":30,"e":1,"v":0.1},{"t":31,"e":1,"v":0.3},{"t":32,"e":1,"v":0.4},{"t":33,"e":1,"v":0.7},{"t":34,"e":1,"v":0.9},{"t":35,"e":1,"v":0.9},{"t":36,"e":1,"v":0.8},{"t":37,"e":1,"v":0.8},{"t":38,"e":1,"v":0.6},{"t":39,"e":1,"v":0.7},{"t":40,"e":1,"v":0.5},{"t":41,"e":1,"v":0.2},{"t":42,"e":1,"v":0.1},{"t":43,"e":1,"v":0.2},{"t":44,"e":1,"v":0.6},{"t":45,"e":1,"v":0.4},{"t":46,"e":1,"v":0.3},
{"t":0,"e":0,"v":0.1},{"t":1,"e":0,"v":0.7},{"t":2,"e":0,"v":0.7},{"t":3,"e":0,"v":0.3},{"t":4,"e":0,"v":0.5},{"t":5,"e":0,"v":0.9},{"t":6,"e":0,"v":0},{"t":7,"e":0,"v":0.7},{"t":8,"e":0,"v":0.8},{"t":9,"e":0,"v":0.2},{"t":10,"e":0,"v":0.9},{"t":11,"e":0,"v":0.8},{"t":12,"e":0,"v":0.7},{"t":13,"e":0,"v":0.6},{"t":14,"e":0,"v":0.4},{"t":15,"e":0,"v":0.3},{"t":16,"e":0,"v":0.2},{"t":17,"e":0,"v":0.1},{"t":18,"e":0,"v":0.4},{"t":19,"e":0,"v":0.5},{"t":20,"e":0,"v":0},{"t":21,"e":0,"v":0.3},{"t":22,"e":0,"v":0.8},{"t":23,"e":0,"v":0.7},{"t":24,"e":0,"v":0.8},{"t":25,"e":0,"v":0.1},{"t":26,"e":0,"v":0.2},{"t":27,"e":0,"v":0.2},{"t":28,"e":0,"v":0},{"t":29,"e":0,"v":0.2},{"t":30,"e":0,"v":0.1},{"t":31,"e":0,"v":0.3},{"t":32,"e":0,"v":0.4},{"t":33,"e":0,"v":0.7},{"t":34,"e":0,"v":0.8},{"t":35,"e":0,"v":0.8},{"t":36,"e":0,"v":0.7},{"t":37,"e":0,"v":0},{"t":38,"e":0,"v":0.6},{"t":39,"e":0,"v":0.7},{"t":40,"e":0,"v":0.6},{"t":41,"e":0,"v":0.1},{"t":42,"e":0,"v":0.1},{"t":43,"e":0,"v":0.1},{"t":44,"e":0,"v":0.7},{"t":45,"e":0,"v":0.4},{"t":46,"e":0,"v":0.3}
        ]},
        "mark": {"type": "rect", "width": 9.2, "height": 6.2, "xOffset": 4.436, "yOffset": -2.93},
        "encoding": {
          "x": {"field": "t", "type": "quantitative", "scale": {"domain": [0, 47], "nice": false, "zero": false},
                "axis": {"values": [0,5,10,15,20,25,30,35,40,45], "title": "Number of trials", "tickSize": 7, "tickColor": "#231f20", "domainColor": "#231f20", "labelFontSize": 13, "titleFontSize": 13, "labelPadding": 2, "titlePadding": 6, "offset": 1, "labelFlush": false}},
          "y": {"field": "e", "type": "quantitative", "scale": {"domain": [0, 28], "nice": false, "zero": false},
                "axis": {"values": [0,5,10,15,20,25], "title": "Number of edges", "tickSize": 7, "tickColor": "#231f20", "domainColor": "#231f20", "labelFontSize": 13, "titleFontSize": 13, "labelPadding": 4, "titlePadding": 8, "offset": 2, "labelFlush": false}},
          "color": {"field": "v", "type": "quantitative", "legend": null,
                    "scale": {"domain": [0, 0.1, 0.2, 0.3, 0.4, 0.5, 0.6, 0.7, 0.8, 0.9], "range": ["#0f0204", "#3d0a0c", "#6c1016", "#a01a22", "#db2128", "#ee4c26", "#f47a22", "#f8a51c", "#fde024", "#fbf1a4"]}}
        }
      },
      {
        "data": {"values": [
          {"g":"Left","i":0,"t":0,"e":28.14},{"g":"Left","i":1,"t":0,"e":29.67},{"g":"Left","i":2,"t":15.93,"e":29.67},{"g":"Left","i":3,"t":15.93,"e":28.14},
          {"g":"Forward","i":0,"t":16.05,"e":28.14},{"g":"Forward","i":1,"t":16.05,"e":29.67},{"g":"Forward","i":2,"t":31.93,"e":29.67},{"g":"Forward","i":3,"t":31.93,"e":28.14},
          {"g":"Right","i":0,"t":32.1,"e":28.14},{"g":"Right","i":1,"t":32.1,"e":29.67},{"g":"Right","i":2,"t":47,"e":29.67},{"g":"Right","i":3,"t":47,"e":28.14}
        ]},
        "mark": {"type": "line", "stroke": "#231f20", "strokeWidth": 1},
        "encoding": {
          "x": {"field": "t", "type": "quantitative"},
          "y": {"field": "e", "type": "quantitative"},
          "detail": {"field": "g"},
          "order": {"field": "i"}
        }
      },
      {
        "data": {"values": [
          {"g":"Left","t":7.97,"e":31.26},{"g":"Forward","t":24,"e":31.26},{"g":"Right","t":39.55,"e":31.26}
        ]},
        "mark": {"type": "text", "fontSize": 13, "font": "Liberation Serif", "color": "#231f20"},
        "encoding": {
          "x": {"field": "t", "type": "quantitative"},
          "y": {"field": "e", "type": "quantitative"},
          "text": {"field": "g"}
        }
      }
    ]
  }
  ]
}
]
}
